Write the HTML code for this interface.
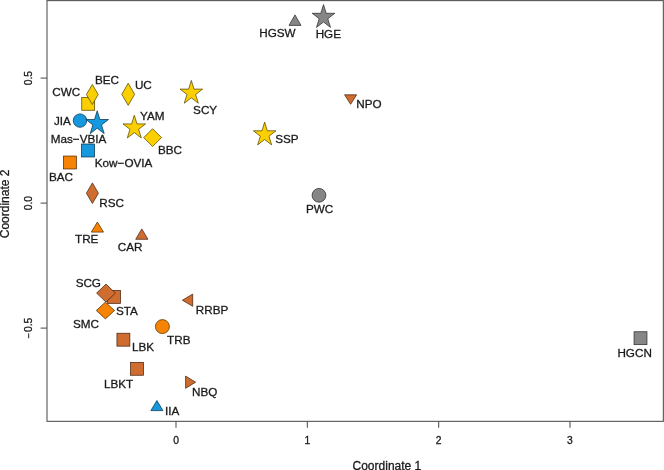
<!DOCTYPE html>
<html><head><meta charset="utf-8"><style>
html,body{margin:0;padding:0;background:#fff;}
body{width:664px;height:470px;overflow:hidden;}
svg{display:block;}
</style></head><body>
<svg width="664" height="470" viewBox="0 0 664 470">
<rect width="664" height="470" fill="#fff"/>
<g stroke="#555" stroke-width="1.1" fill="none">
<rect x="47.0" y="0.6" width="616.35" height="420.75"/>
<line x1="176.00" y1="421.35" x2="176.00" y2="427.8"/>
<line x1="307.33" y1="421.35" x2="307.33" y2="427.8"/>
<line x1="438.66" y1="421.35" x2="438.66" y2="427.8"/>
<line x1="569.99" y1="421.35" x2="569.99" y2="427.8"/>
<line x1="40.6" y1="328.10" x2="47.0" y2="328.10"/>
<line x1="40.6" y1="203.10" x2="47.0" y2="203.10"/>
<line x1="40.6" y1="78.10" x2="47.0" y2="78.10"/>
</g>
<g stroke="#2e2e2e" stroke-width="0.75" stroke-linejoin="miter">
<path d="M295.00,14.90 L301.00,25.40 L289.00,25.40Z" fill="#868686" stroke="#2e2e2e"/>
<path d="M323.50,4.60 L326.17,13.31 L334.82,13.31 L327.82,18.69 L330.49,27.39 L323.50,22.01 L316.51,27.39 L319.18,18.69 L312.18,13.31 L320.83,13.31Z" fill="#868686" stroke="#2e2e2e"/>
<rect x="81.75" y="97.35" width="12.9" height="12.9" fill="#FCCF00" stroke="#584800"/>
<path d="M92.30,84.50 L98.20,94.50 L92.30,104.50 L86.40,94.50Z" fill="#FCCF00" stroke="#584800"/>
<path d="M128.20,83.20 L134.60,94.30 L128.20,105.40 L121.80,94.30Z" fill="#FCCF00" stroke="#584800"/>
<path d="M191.30,80.40 L193.97,89.11 L202.62,89.11 L195.62,94.49 L198.29,103.19 L191.30,97.81 L184.31,103.19 L186.98,94.49 L179.98,89.11 L188.63,89.11Z" fill="#FCCF00" stroke="#584800"/>
<path d="M344.60,94.80 L356.60,94.80 L350.60,104.30Z" fill="#CF6C30" stroke="#482510"/>
<circle cx="80" cy="120.6" r="6.7" fill="#1598DE" stroke="#07354d"/>
<path d="M97.20,110.80 L99.87,119.51 L108.52,119.51 L101.52,124.89 L104.19,133.59 L97.20,128.21 L90.21,133.59 L92.88,124.89 L85.88,119.51 L94.53,119.51Z" fill="#1598DE" stroke="#07354d"/>
<path d="M134.30,115.20 L136.97,123.91 L145.62,123.91 L138.62,129.29 L141.29,137.99 L134.30,132.61 L127.31,137.99 L129.98,129.29 L122.98,123.91 L131.63,123.91Z" fill="#FCCF00" stroke="#584800"/>
<path d="M152.60,128.70 L161.50,137.60 L152.60,146.50 L143.70,137.60Z" fill="#FCCF00" stroke="#584800"/>
<path d="M264.65,122.10 L267.32,130.81 L275.97,130.81 L268.97,136.19 L271.64,144.89 L264.65,139.51 L257.66,144.89 L260.33,136.19 L253.33,130.81 L261.98,130.81Z" fill="#FCCF00" stroke="#584800"/>
<rect x="81.55" y="144.05" width="12.9" height="12.9" fill="#1598DE" stroke="#07354d"/>
<rect x="63.45" y="156.05" width="12.9" height="12.9" fill="#F68304" stroke="#562d01"/>
<circle cx="319" cy="195.3" r="6.9" fill="#868686" stroke="#2e2e2e"/>
<path d="M92.40,182.90 L98.40,193.20 L92.40,203.50 L86.40,193.20Z" fill="#CF6C30" stroke="#482510"/>
<path d="M97.40,222.00 L103.50,232.10 L91.30,232.10Z" fill="#F68304" stroke="#562d01"/>
<path d="M141.80,228.90 L147.90,239.30 L135.70,239.30Z" fill="#CF6C30" stroke="#482510"/>
<rect x="107.60" y="290.45" width="12.9" height="12.9" fill="#CF6C30" stroke="#482510"/>
<path d="M106.00,284.10 L115.40,293.10 L106.00,302.10 L96.60,293.10Z" fill="#CF6C30" stroke="#482510"/>
<path d="M105.40,302.10 L114.50,310.50 L105.40,318.90 L96.30,310.50Z" fill="#F68304" stroke="#562d01"/>
<path d="M182.40,300.20 L192.70,294.10 L192.70,306.30Z" fill="#CF6C30" stroke="#482510"/>
<circle cx="162.4" cy="326.6" r="7.0" fill="#F68304" stroke="#562d01"/>
<rect x="116.95" y="333.25" width="12.9" height="12.9" fill="#CF6C30" stroke="#482510"/>
<rect x="634.05" y="331.75" width="12.9" height="12.9" fill="#868686" stroke="#2e2e2e"/>
<rect x="130.55" y="362.35" width="12.9" height="12.9" fill="#CF6C30" stroke="#482510"/>
<path d="M195.60,382.20 L185.60,376.10 L185.60,388.30Z" fill="#CF6C30" stroke="#482510"/>
<path d="M156.90,400.50 L162.90,410.60 L150.90,410.60Z" fill="#1598DE" stroke="#07354d"/>
</g>
<g font-family="Liberation Sans, Arial, sans-serif" font-size="11.7" fill="#1a1a1a" stroke="#1a1a1a" stroke-width="0.3">
<text x="259.29" y="36.62">HGSW</text>
<text x="315.67" y="37.72">HGE</text>
<text x="52.19" y="95.52">CWC</text>
<text x="94.89" y="84.32">BEC</text>
<text x="134.90" y="88.61">UC</text>
<text x="193.12" y="113.61">SCY</text>
<text x="356.31" y="108.02">NPO</text>
<text x="54.02" y="125.12">JIA</text>
<text x="50.74" y="142.72">Mas−VBIA</text>
<text x="139.97" y="119.52">YAM</text>
<text x="157.94" y="154.32">BBC</text>
<text x="275.23" y="142.72">SSP</text>
<text x="94.84" y="167.32">Kow−OVIA</text>
<text x="49.00" y="180.62">BAC</text>
<text x="305.94" y="212.82">PWC</text>
<text x="99.34" y="206.71">RSC</text>
<text x="75.04" y="242.82">TRE</text>
<text x="117.86" y="250.62">CAR</text>
<text x="75.63" y="286.59">SCG</text>
<text x="116.03" y="315.02">STA</text>
<text x="72.92" y="328.42">SMC</text>
<text x="195.81" y="313.52">RRBP</text>
<text x="167.05" y="344.22">TRB</text>
<text x="131.88" y="350.92">LBK</text>
<text x="617.41" y="357.32">HGCN</text>
<text x="103.97" y="387.52">LBKT</text>
<text x="192.03" y="395.86">NBQ</text>
<text x="164.94" y="415.42">IIA</text>
</g>
<g font-family="Liberation Sans, Arial, sans-serif" font-size="10.3" fill="#1a1a1a" text-anchor="middle" stroke="#1a1a1a" stroke-width="0.3">
<text x="176.00" y="444">0</text>
<text x="307.33" y="444">1</text>
<text x="438.66" y="444">2</text>
<text x="569.99" y="444">3</text>
<text transform="translate(32,328.10) rotate(-90)"><tspan font-size="9.3">−</tspan><tspan dx="0.9">0.5</tspan></text>
<text transform="translate(32,203.10) rotate(-90)">0.0</text>
<text transform="translate(32,78.10) rotate(-90)">0.5</text>
</g>
<g font-family="Liberation Sans, Arial, sans-serif" font-size="12" fill="#1a1a1a" text-anchor="middle" stroke="#1a1a1a" stroke-width="0.3">
<text x="386.9" y="469.5">Coordinate 1</text>
<text transform="translate(9.1,203.9) rotate(-90)">Coordinate 2</text>
</g>
</svg>
</body></html>
